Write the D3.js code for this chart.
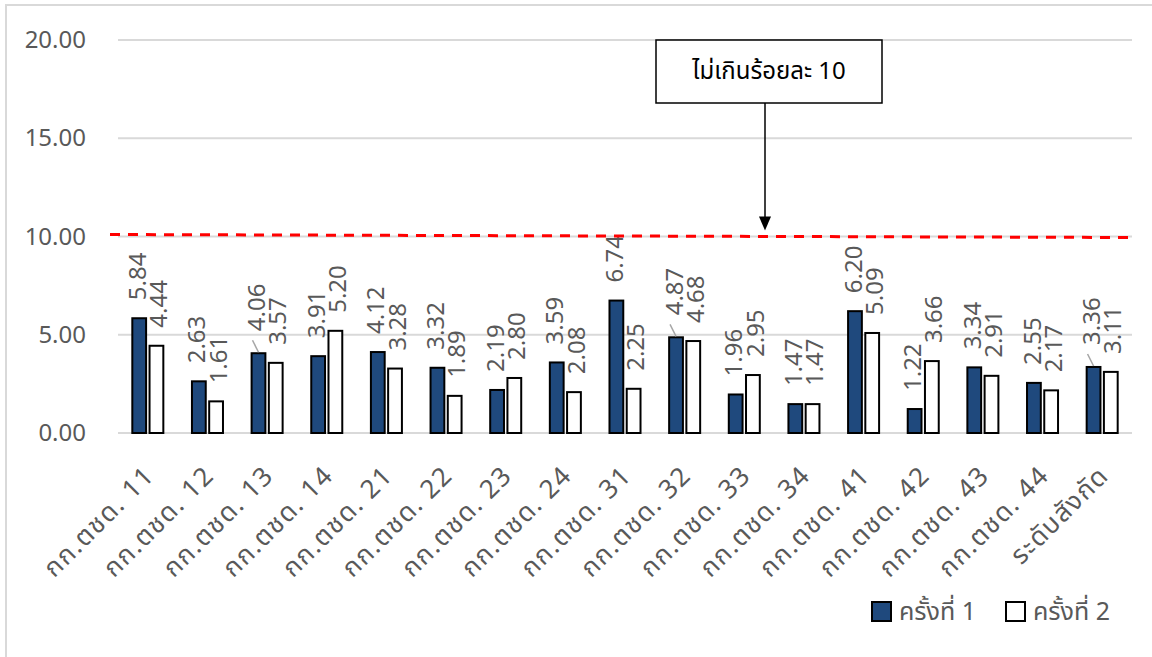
<!DOCTYPE html>
<html>
<head>
<meta charset="utf-8">
<script src="https://cdn.jsdelivr.net/npm/d3@7"></script>
<style>
  html, body { margin: 0; padding: 0; background: #fff; }
  svg { display: block; }
  text { font-family: "Noto Sans Thai", "Noto Sans", "DejaVu Sans", sans-serif; }
</style>
</head>
<body>
<svg id="chart" width="1152" height="657"></svg>
<script>
// ---------------- data ----------------
const categories = [
  "กก.ตชด. 11", "กก.ตชด. 12", "กก.ตชด. 13", "กก.ตชด. 14",
  "กก.ตชด. 21", "กก.ตชด. 22", "กก.ตชด. 23", "กก.ตชด. 24",
  "กก.ตชด. 31", "กก.ตชด. 32", "กก.ตชด. 33", "กก.ตชด. 34",
  "กก.ตชด. 41", "กก.ตชด. 42", "กก.ตชด. 43", "กก.ตชด. 44",
  "ระดับสังกัด"
];
const seriesNames = ["ครั้งที่ 1", "ครั้งที่ 2"];
const round1 = [5.84, 2.63, 4.06, 3.91, 4.12, 3.32, 2.19, 3.59, 6.74, 4.87, 1.96, 1.47, 6.20, 1.22, 3.34, 2.55, 3.36];
const round2 = [4.44, 1.61, 3.57, 5.20, 3.28, 1.89, 2.80, 2.08, 2.25, 4.68, 2.95, 1.47, 5.09, 3.66, 2.91, 2.17, 3.11];
const yTicks = [0, 5, 10, 15, 20];
const limitValue = 10;
const limitLabel = "ไม่เกินร้อยละ 10";
const leaderLabels = [2, 9, 16]; // round-1 labels drawn with a leader line

// ---------------- layout ----------------
const svg = d3.select("#chart");
const plot = { left: 118, right: 1132, top: 40, bottom: 433 };
const colors = ["#1F497D", "#FFFFFF"];
const grey = "#595959";

// chart frame
svg.append("rect").attr("x", 6).attr("y", 5).attr("width", 1160).attr("height", 670)
  .attr("fill", "none").attr("stroke", "#d9d9d9").attr("stroke-width", 2);

const y = d3.scaleLinear().domain([0, 20]).range([plot.bottom, plot.top]);
const x0 = d3.scaleBand().domain(categories).range([plot.left, plot.right])
  .paddingInner(0.48).paddingOuter(0.24);
const x1 = d3.scaleBand().domain(seriesNames).range([0, x0.bandwidth()]).paddingInner(0.2);

// gridlines
svg.append("g").selectAll("line").data(yTicks).join("line")
  .attr("x1", plot.left).attr("x2", plot.right)
  .attr("y1", d => y(d)).attr("y2", d => y(d))
  .attr("stroke", "#d9d9d9").attr("stroke-width", 2);

// y tick labels via axis
const yAxis = svg.append("g").attr("transform", `translate(${plot.left - 32},0)`)
  .call(d3.axisLeft(y).tickValues(yTicks).tickFormat(d3.format(".2f")).tickSize(0).tickPadding(0));
yAxis.select(".domain").remove();
yAxis.selectAll("text").attr("font-size", 24).attr("fill", grey)
  .style("font-family", '"Noto Sans", "DejaVu Sans", sans-serif');

// bars
const series = [round1, round2];
const groups = svg.append("g").selectAll("g").data(categories).join("g")
  .attr("transform", d => `translate(${x0(d)},0)`);

groups.selectAll("rect").data((d, i) => series.map((s, k) => ({ k, v: s[i] }))).join("rect")
  .attr("x", d => x1(seriesNames[d.k]))
  .attr("width", x1.bandwidth())
  .attr("y", d => y(d.v))
  .attr("height", d => y(0) - y(d.v))
  .attr("fill", d => colors[d.k])
  .attr("stroke", "#000").attr("stroke-width", 2);

// value labels
groups.each(function (cat, i) {
  const g = d3.select(this);
  series.forEach((s, k) => {
    const cx = x1(seriesNames[k]) + x1.bandwidth() / 2;
    const top = y(s[i]);
    const lead = k === 0 && leaderLabels.includes(i);
    const off = lead ? 22 : 18;
    const lx = cx + (k === 0 ? -2 : 2);
    g.append("text")
      .attr("transform", `translate(${lx},${top - off}) rotate(-90)`)
      .attr("dy", "0.36em")
      .attr("text-anchor", "start")
      .attr("font-size", 24).attr("fill", grey)
      .style("font-family", '"Noto Sans", "DejaVu Sans", sans-serif')
      .text(d3.format(".2f")(s[i]));
    if (lead) {
      g.append("line")
        .attr("x1", cx).attr("y1", top - 1)
        .attr("x2", cx - 6).attr("y2", top - 13)
        .attr("stroke", "#a6a6a6").attr("stroke-width", 1.5);
    }
  });
});

// category labels
svg.append("g").selectAll("text").data(categories).join("text")
  .attr("transform", d => `translate(${x0(d) + x0.bandwidth() / 2 + 8},${plot.bottom + 44}) rotate(-45)`)
  .attr("text-anchor", "end")
  .attr("font-size", 26).attr("letter-spacing", "1.5px").attr("fill", grey)
  .text(d => d);

// limit line
svg.append("line")
  .attr("x1", plot.left - 8).attr("x2", plot.right - 2)
  .attr("y1", y(limitValue) - 2).attr("y2", y(limitValue) + 1)
  .attr("stroke", "#ff0000").attr("stroke-width", 3)
  .attr("stroke-dasharray", "10 8");

// annotation box + arrow
const box = { x: 656, y: 40, w: 226, h: 63 };
svg.append("rect").attr("x", box.x).attr("y", box.y).attr("width", box.w).attr("height", box.h)
  .attr("fill", "#fff").attr("stroke", "#000").attr("stroke-width", 1.5);
svg.append("text").attr("x", box.x + box.w / 2).attr("y", box.y + box.h / 2)
  .attr("text-anchor", "middle").attr("dominant-baseline", "central")
  .attr("font-size", 24).attr("fill", "#000").text(limitLabel);
const ax = box.x + box.w / 2 - 4;
const tipY = y(limitValue) - 6;
svg.append("line").attr("x1", ax).attr("x2", ax).attr("y1", box.y + box.h).attr("y2", tipY - 12)
  .attr("stroke", "#000").attr("stroke-width", 1.5);
svg.append("path").attr("d", `M${ax - 6},${tipY - 14} L${ax + 6},${tipY - 14} L${ax},${tipY} Z`).attr("fill", "#000");

// legend
const legend = svg.append("g");
const legendItems = [{ x: 872, k: 0 }, { x: 1006, k: 1 }];
legendItems.forEach(it => {
  legend.append("rect").attr("x", it.x).attr("y", 602).attr("width", 19).attr("height", 19)
    .attr("fill", colors[it.k]).attr("stroke", "#000").attr("stroke-width", 2);
  legend.append("text").attr("x", it.x + 27).attr("y", 620)
    .attr("font-size", 25).attr("fill", grey).text(seriesNames[it.k]);
});
</script>
</body>
</html>
